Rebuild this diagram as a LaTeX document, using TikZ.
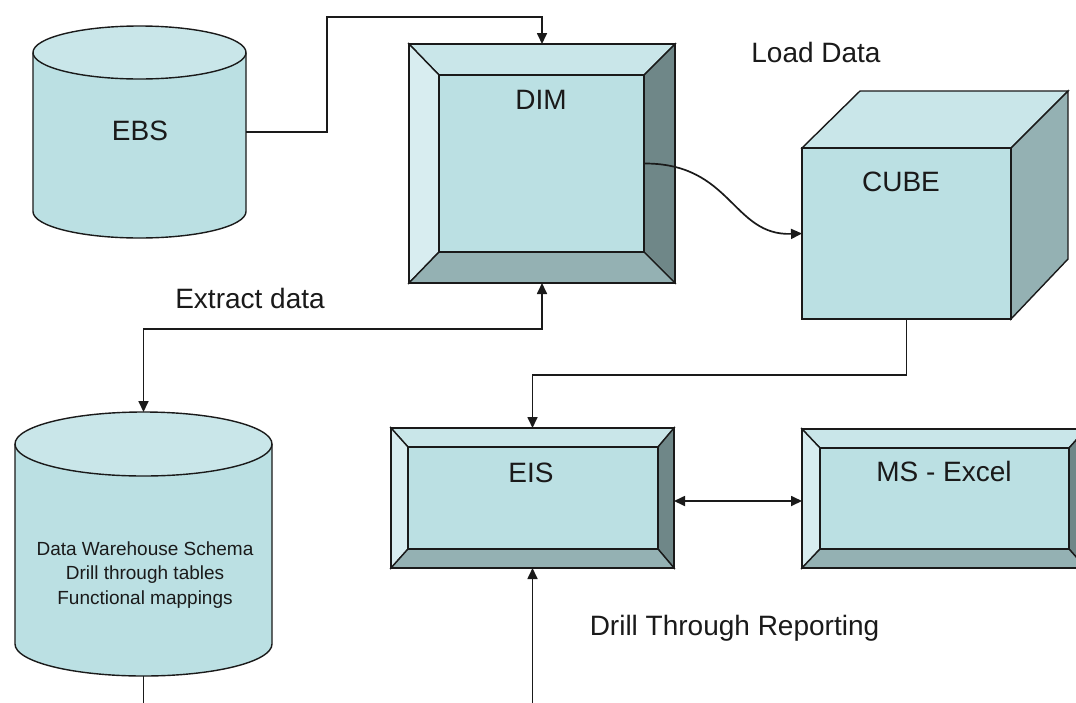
\documentclass[tikz,border=0pt]{standalone}
\usepackage{fontspec}
\setmainfont{Liberation Sans}
\usetikzlibrary{arrows.meta}

\definecolor{facemid}{HTML}{BBE0E3}
\definecolor{facelight}{HTML}{C9E6E9}
\definecolor{facepale}{HTML}{D8EDF0}
\definecolor{facedark}{HTML}{6F8788}
\definecolor{faceshade}{HTML}{94B1B3}
\definecolor{ink}{HTML}{1A1A1A}

% Bevelled panel drawn around a named rectangular node:
% #1 node, #2 left, #3 right, #4 top, #5 bottom bevel width
\newcommand\bevelpanel[5]{%
  \coordinate (#1-nw) at ([xshift=#2,yshift=-#4]#1.north west);
  \coordinate (#1-ne) at ([xshift=-#3,yshift=-#4]#1.north east);
  \coordinate (#1-se) at ([xshift=-#3,yshift=#5]#1.south east);
  \coordinate (#1-sw) at ([xshift=#2,yshift=#5]#1.south west);
  \filldraw[edge,fill=facelight] (#1.north west) -- (#1.north east) -- (#1-ne) -- (#1-nw) -- cycle;
  \filldraw[edge,fill=facepale] (#1.north west) -- (#1-nw) -- (#1-sw) -- (#1.south west) -- cycle;
  \filldraw[edge,fill=facedark] (#1.north east) -- (#1.south east) -- (#1-se) -- (#1-ne) -- cycle;
  \filldraw[edge,fill=faceshade] (#1.south west) -- (#1-sw) -- (#1-se) -- (#1.south east) -- cycle;
  \filldraw[edge,fill=facemid] (#1-nw) rectangle (#1-se);
  \draw[edge] (#1.north west) rectangle (#1.south east);
}

% Database drum drawn inside a named rectangular node:
% #1 node, #2 half width, #3 ellipse radius
\newcommand\drum[3]{%
  \coordinate (#1-tl) at ([yshift=-#3]#1.north west);
  \coordinate (#1-tr) at ([yshift=-#3]#1.north east);
  \coordinate (#1-bl) at ([yshift=#3]#1.south west);
  \coordinate (#1-tc) at ([yshift=-#3]#1.north);
  \fill[facemid] (#1-tl) -- (#1-bl)
    arc[start angle=180, end angle=360, x radius=#2, y radius=#3] -- (#1-tr) -- cycle;
  \draw[edge] (#1-tl) -- (#1-bl)
    arc[start angle=180, end angle=360, x radius=#2, y radius=#3] -- (#1-tr);
  \filldraw[edge,fill=facelight] (#1-tc) ellipse[x radius=#2, y radius=#3];
}

\begin{document}
\begin{tikzpicture}[x=1pt,y=-1pt,
  edge/.style={draw=ink, line width=1.4pt, line join=miter},
  box/.style={draw=none, inner sep=0pt, outer sep=0pt},
  lbl/.style={font=\fontsize{28}{34}\selectfont, text=ink, inner sep=0pt, anchor=base},
  small/.style={font=\fontsize{19}{24}\selectfont, text=ink, inner sep=0pt, anchor=base},
  wire/.style={draw=ink, line width=1.7pt},
  tip/.tip={Triangle[length=11pt,width=10pt]},
  flow/.style={wire, -tip},
  twoway/.style={wire, tip-tip}]

\useasboundingbox (0,0) rectangle (1076,702);
\clip (0,0) rectangle (1076,702);
\fill[white] (0,0) rectangle (1076,702);

% frames of the shapes
\node[box, minimum width=213pt, minimum height=212pt] (ebs) at (139.5,132) {};
\node[box, minimum width=257pt, minimum height=264pt] (dw) at (143.5,544) {};
\node[box, minimum width=266pt, minimum height=239pt] (dim) at (542,163.5) {};
\node[box, minimum width=209pt, minimum height=171pt] (cube) at (906.5,233.5) {};
\node[box, minimum width=283pt, minimum height=140pt] (eis) at (532.5,498) {};
\node[box, minimum width=284pt, minimum height=139pt] (excel) at (944,498.5) {};

% database drums
\drum{ebs}{106.5pt}{26.5pt}
\drum{dw}{128.5pt}{32pt}

% bevelled panels
\bevelpanel{dim}{30pt}{31pt}{31pt}{31pt}
\bevelpanel{eis}{17pt}{16pt}{19pt}{19pt}
\bevelpanel{excel}{18pt}{17pt}{19pt}{19pt}

% cube
\filldraw[edge,fill=facelight] (cube.north west) -- ([shift={(58pt,57pt)}]cube.north west)
  -- ([shift={(57pt,57pt)}]cube.north east) -- (cube.north east) -- cycle;
\filldraw[edge,fill=faceshade] (cube.north east) -- ([shift={(57pt,57pt)}]cube.north east)
  -- ([shift={(57pt,60pt)}]cube.south east) -- (cube.south east) -- cycle;
\filldraw[edge,fill=facemid] (cube.north west) rectangle (cube.south east);

% labels
\node[lbl] (ebstext) at (140,140) {EBS};
\node[lbl] (dimtext) at (541,109) {DIM};
\node[lbl] (cubetext) at (901,191) {CUBE};
\node[lbl] (eistext) at (531,482) {EIS};
\node[lbl] (exceltext) at (944,481) {MS - Excel};
\node[lbl] (loadtext) at (816,62) {Load Data};
\node[lbl] (extracttext) at (250,308) {Extract data};
\node[lbl] (drilltext) at (734.5,635) {Drill Through Reporting};
\node[small] (dw1) at (145,555) {Data Warehouse Schema};
\node[small] (dw2) at (145,579.5) {Drill through tables};
\node[small] (dw3) at (145,604) {Functional mappings};

% connectors
\coordinate (ebsbend) at (327,17);
\draw[flow] (ebs.east) -| (ebsbend) -| (dim.north);

\draw[flow] ([xshift=-31pt]dim.east) .. controls (732,163) and (732,236) .. (cube.west);

\draw[flow] (cube.south) -- ++(0,56) -| (eis.north);

\draw[twoway] (dim.south) -- ++(0,46) -| (dw.north);

\draw[twoway] ([yshift=-3pt]eis.east) -- ([yshift=-2.5pt]excel.west);

\coordinate (reportin) at (532.5,706);
\draw[flow] (reportin) -- (eis.south);

\coordinate (dwout) at (143.5,706);
\draw[wire] (dw.south) -- (dwout);

\end{tikzpicture}
\end{document}
